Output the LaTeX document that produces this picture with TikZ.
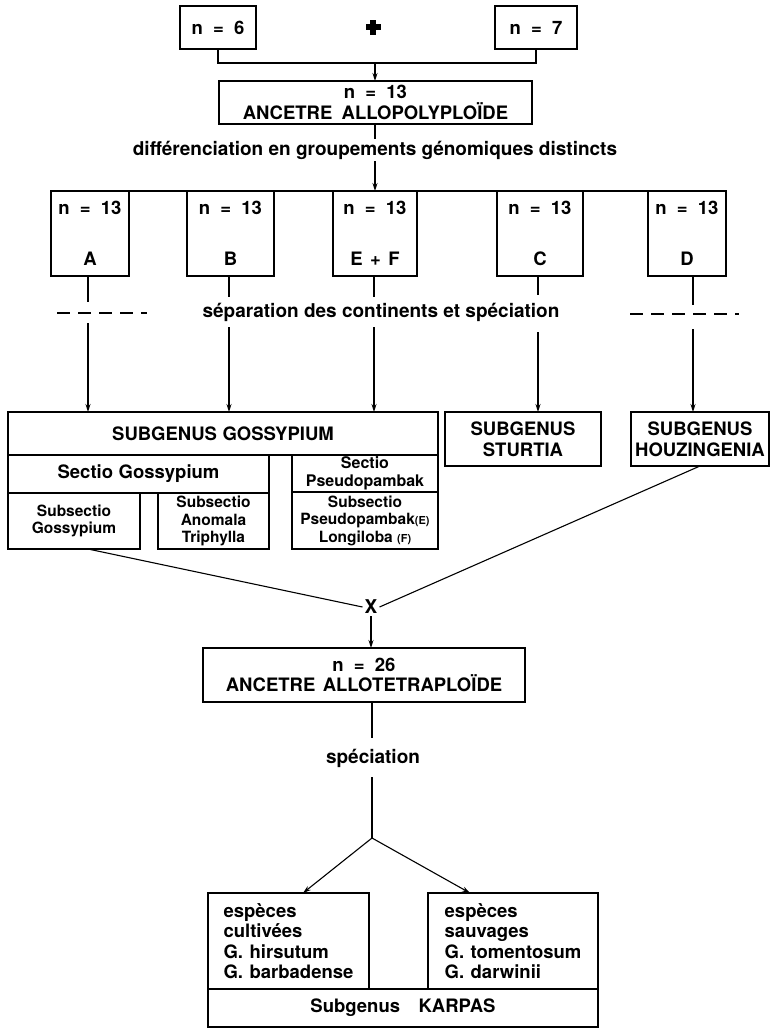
\documentclass[tikz,border=0pt]{standalone}
\usepackage{fontspec}
\setmainfont{TeX Gyre Heros}
\usetikzlibrary{arrows.meta,calc}
\newcommand{\nval}[1]{n\hspace{0.55em}=\hspace{0.55em}#1}
\begin{document}
\begin{tikzpicture}[x=1pt,y=-1pt,
  bx/.style={draw,line width=1.5pt,inner sep=0pt,outer sep=0pt,align=center,
    font=\bfseries\fontsize{18.5}{20.5}\selectfont},
  sbx/.style={bx,font=\bfseries\fontsize{15.5}{17.5}\selectfont},
  txt/.style={inner sep=2pt,font=\bfseries\fontsize{19}{21}\selectfont},
  con/.style={line width=1.1pt},
  arr/.style={con,-{Stealth[length=8pt,width=5pt]}},
  dsh/.style={line width=1.3pt,dash pattern=on 13pt off 8pt}]
\useasboundingbox (0,0) rectangle (771,1028);
% top
\node[bx,minimum width=76pt,minimum height=43pt] (n6) at (218,27.5) {\nval{6}};
\node[bx,minimum width=82pt,minimum height=43pt] (n7) at (536,27.5) {\nval{7}};
\node[inner sep=0pt,minimum size=15pt] (plus) at (373,27) {};
\fill ($(plus)+(-7.5,-2.8)$) rectangle ($(plus)+(7.5,2.8)$);
\fill ($(plus)+(-2.8,-7.5)$) rectangle ($(plus)+(2.8,7.5)$);
\node[bx,minimum width=313pt,minimum height=43pt] (a13) at (375.5,102.5)
  {\nval{13}\\ANCETRE\hspace{0.5em}ALLOPOLYPLOÏDE};
\coordinate (j1) at (375,63);
\draw[con] (n6.south) -- (n6.south |- j1) -- (n7.south |- j1) -- (n7.south);
\draw[arr] (j1) -- (j1 |- a13.north);
\node[txt] (diff) at (375,150) {différenciation en groupements génomiques distincts};
\draw[con] (a13.south -| j1) -- (diff.north -| j1);
% genome boxes
\node[bx,minimum width=78pt,minimum height=85pt] (A) at (90,233.5) {\nval{13}\\[30pt]A};
\node[bx,minimum width=87pt,minimum height=85pt] (B) at (230.5,233.5) {\nval{13}\\[30pt]B};
\node[bx,minimum width=84pt,minimum height=85pt] (EF) at (375,233.5) {\nval{13}\\[30pt]E\hspace{0.4em}+\hspace{0.4em}F};
\node[bx,minimum width=86pt,minimum height=85pt] (C) at (540,233.5) {\nval{13}\\[30pt]C};
\node[bx,minimum width=78pt,minimum height=85pt] (D) at (687,233.5) {\nval{13}\\[30pt]D};
\draw[line width=1.5pt] (A.north west) -- (D.north east);
\draw[arr] (diff.south -| j1) -- (j1 |- A.north);
% separation
\node[txt] (sep) at (381,312) {séparation des continents et spéciation};
\coordinate (A1) at (88,302); \coordinate (A2) at (88,323);
\coordinate (B1) at (229,297); \coordinate (B2) at (229,327);
\coordinate (E1) at (374,297); \coordinate (E2) at (374,327);
\coordinate (C1) at (538,295); \coordinate (C2) at (538,332);
\coordinate (D1) at (693,305); \coordinate (D2) at (693,329);
\coordinate (dA1) at (57,313); \coordinate (dA2) at (147,313);
\coordinate (dD1) at (630,314); \coordinate (dD2) at (739,314);
\draw[dsh] (dA1) -- (dA2);
\draw[dsh] (dD1) -- (dD2);
% subgenera
\node[bx,minimum width=430pt,minimum height=43pt] (SG) at (223,433.5) {SUBGENUS\hspace{0.3em}GOSSYPIUM};
\node[bx,minimum width=261pt,minimum height=38pt] (SeG) at (138.5,474) {Sectio\hspace{0.3em}Gossypium};
\node[sbx,minimum width=132pt,minimum height=56pt] (SsG) at (74,521) {Subsectio\\Gossypium};
\node[sbx,minimum width=111pt,minimum height=56pt] (SsA) at (213.5,521) {Subsectio\\Anomala\\Triphylla};
\node[bx,font=\bfseries\fontsize{16}{17.5}\selectfont,minimum width=146pt,minimum height=37pt] (SeP) at (365,473.5) {Sectio\\Pseudopambak};
\node[sbx,minimum width=146pt,minimum height=57pt] (SsP) at (365,520.5)
  {Subsectio\\Pseudopambak{\fontsize{11}{12}\selectfont(E)}\\Longiloba {\fontsize{11}{12}\selectfont(F)}};
\node[bx,minimum width=156pt,minimum height=54pt] (ST) at (523,439) {SUBGENUS\\STURTIA};
\node[bx,minimum width=138pt,minimum height=54pt] (HZ) at (700,439) {SUBGENUS\\HOUZINGENIA};
% connectors through separation
\draw[con] (A1 |- A.south) -- (A1); \draw[arr] (A2) -- (A2 |- SG.north);
\draw[con] (B1 |- B.south) -- (B1); \draw[arr] (B2) -- (B2 |- SG.north);
\draw[con] (E1 |- EF.south) -- (E1); \draw[arr] (E2) -- (E2 |- SG.north);
\draw[con] (C1 |- C.south) -- (C1); \draw[arr] (C2) -- (C2 |- ST.north);
\draw[con] (D1 |- D.south) -- (D1); \draw[arr] (D2) -- (D2 |- HZ.north);
% cross
\node[txt] (X) at (371,607) {X};
\draw[con] ($(SsG.south)+(14,0)$) -- (X.west);
\draw[con] (HZ.south) -- (X.east);
\node[bx,minimum width=322pt,minimum height=54pt] (tet) at (364,675)
  {\nval{26}\\ANCETRE\hspace{0.4em}ALLOTETRAPLOÏDE};
\draw[arr] (X.south) -- (X.south |- tet.north);
\coordinate (t1) at (372,738); \coordinate (t2) at (372,777); \coordinate (split) at (372,838);
\node[txt] (spec) at (373,758) {spéciation};
\draw[con] (t1 |- tet.south) -- (t1);
\draw[con] (t2) -- (split);
% bottom
\node[bx,align=left,minimum width=161pt,minimum height=96pt,font=\bfseries\fontsize{18.5}{20.3}\selectfont] (L) at (288.5,941)
  {espèces\\cultivées\\G.\hspace{0.35em}hirsutum\\G.\hspace{0.35em}barbadense};
\node[bx,align=left,minimum width=170pt,minimum height=96pt,font=\bfseries\fontsize{18.5}{20.3}\selectfont] (R) at (513,941)
  {espèces\\sauvages\\G.\hspace{0.35em}tomentosum\\G.\hspace{0.35em}darwinii};
\node[bx,minimum width=390pt,minimum height=38pt] (K) at (403,1008) {Subgenus\hspace{1em}KARPAS};
\draw[arr] (split) -- ($(L.north west)!0.59!(L.north east)$);
\draw[arr] (split) -- ($(R.north west)!0.247!(R.north east)$);
\end{tikzpicture}
\end{document}
